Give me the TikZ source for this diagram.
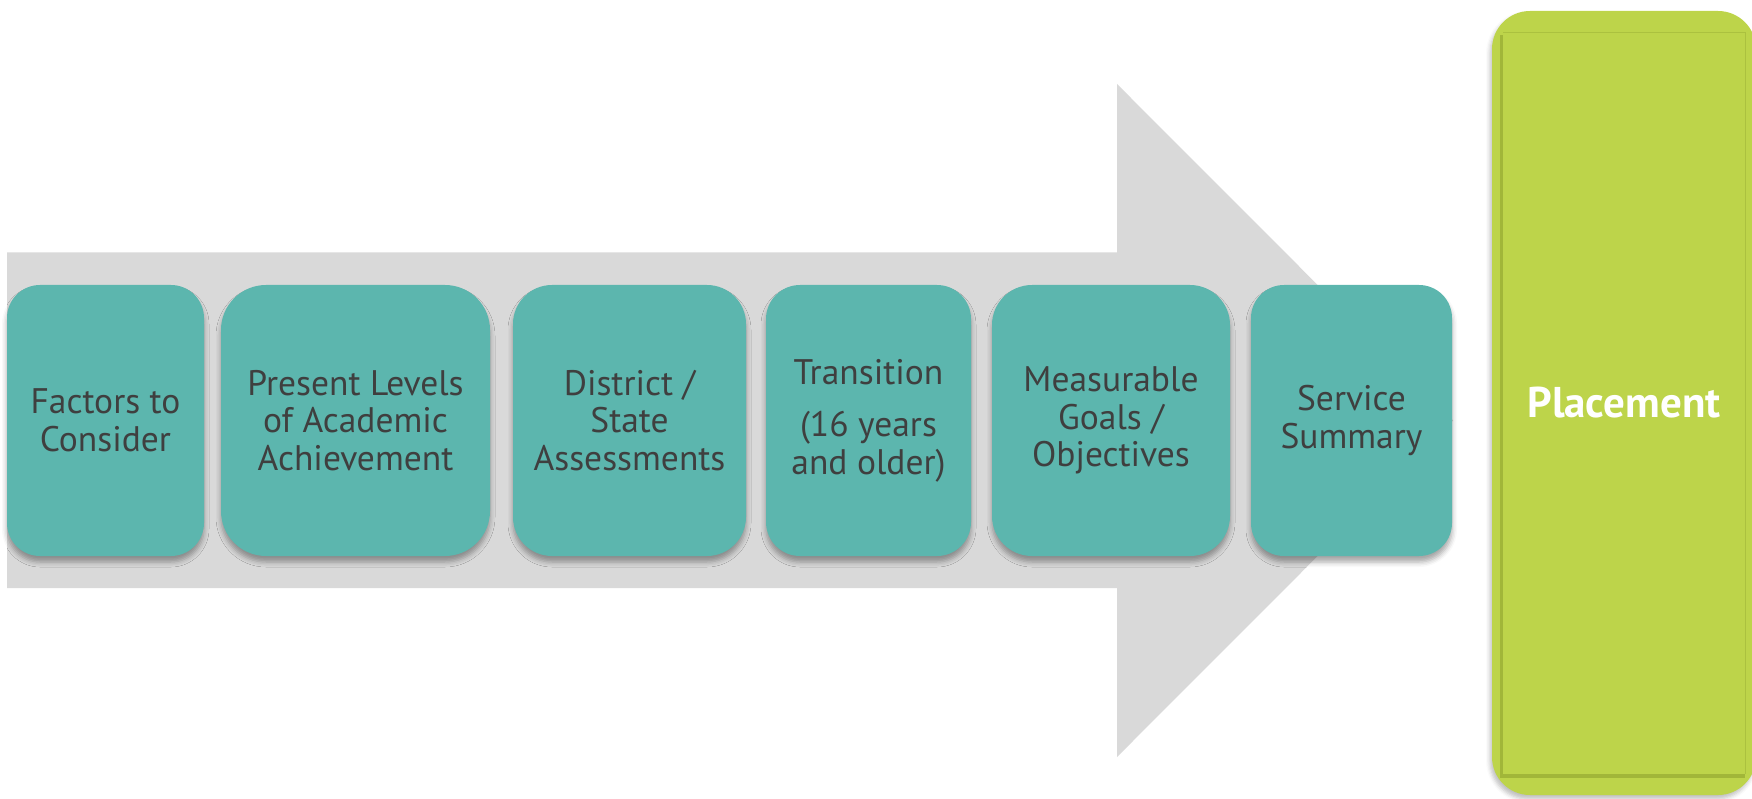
\documentclass[tikz,border=0pt]{standalone}
\usepackage{fontspec}
\setmainfont{PT Sans}
\usetikzlibrary{shadows.blur}
\definecolor{arrowgray}{HTML}{D9D9D9}
\definecolor{tealbox}{HTML}{5CB6AE}
\definecolor{txtgray}{HTML}{3F3F3F}
\definecolor{limebox}{HTML}{BDD44A}
\definecolor{limedark}{HTML}{9AAF35}
\tikzset{
  stepbox/.style={rectangle, fill=tealbox, inner sep=0pt, minimum height=271pt,
    align=center, text=txtgray, font=\fontsize{35.5}{37.5}\selectfont,
    blur shadow={shadow xshift=0pt, shadow yshift=-6pt, shadow blur radius=5pt, shadow opacity=35}},
  placebox/.style={rectangle, fill=limebox, inner sep=0pt, rounded corners=38pt,
    blur shadow={shadow xshift=-2pt, shadow yshift=-4pt, shadow blur radius=4pt, shadow opacity=25}},
}
\begin{document}
\begin{tikzpicture}[x=1pt,y=-1pt]
\useasboundingbox (0,0) rectangle (1752,799);
% big arrow
\fill[arrowgray] (7,252.5) -- (1117,252.5) -- (1117,84) -- (1453,420.5)
  -- (1117,757) -- (1117,588) -- (7,588) -- cycle;
% steps
\node[stepbox, minimum width=197pt, rounded corners=33pt] (f) at (105.5,420.5) {Factors to\\Consider};
\node[stepbox, minimum width=269pt, rounded corners=45pt] (p) at (355.5,420.5) {Present Levels\\of Academic\\Achievement};
\node[stepbox, minimum width=233pt, rounded corners=39pt] (d) at (629.5,420.5) {District /\\State\\Assessments};
\node[stepbox, minimum width=205pt, rounded corners=34pt] (t) at (868.5,420.5) {Transition\\[15pt](16 years\\and older)};
\node[stepbox, minimum width=238pt, rounded corners=40pt] (m) at (1111,420.5) {Measurable\\Goals /\\Objectives};
\node[stepbox, minimum width=201pt, rounded corners=33pt] (s) at (1351.5,420.5) {Service\\Summary};
% placement
\node[placebox, minimum width=264pt, minimum height=784pt] (pl) at (1624,403) {};
\fill[limedark, opacity=0.8] (1500,35) rectangle (1745,778);
\fill[limebox] (1503,32) rectangle (1745,774);
\draw[limedark, line width=0.8pt, opacity=0.5] (1503,32) -- (1745,32) -- (1745,774);
\node[text=white, font=\fontsize{43}{50}\selectfont\bfseries] (pt) at (pl.center) {Placement};
\end{tikzpicture}
\end{document}
